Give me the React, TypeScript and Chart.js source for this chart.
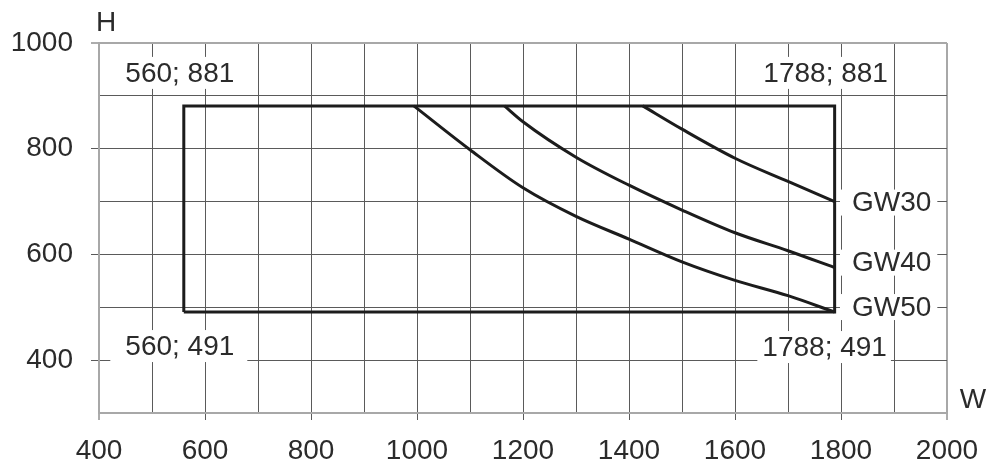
import React, { useEffect, useRef } from 'react';
import { Chart, registerables } from 'chart.js';

Chart.register(...registerables);

// ---- data ----
const boxW = [560, 560, 1788, 1788, 560];
const boxH = [491, 881, 881, 491, 491];

const gw30W = [1426, 1500, 1600, 1700, 1788];
const gw30H = [881, 837, 782, 738, 700];

const gw40W = [1165, 1200, 1300, 1400, 1500, 1600, 1700, 1788];
const gw40H = [881, 851, 784, 731, 684, 641, 607, 575];

const gw50W = [994, 1100, 1200, 1300, 1400, 1500, 1600, 1700, 1788];
const gw50H = [881, 798, 726, 672, 629, 586, 551, 522, 491];

const seriesNames = ['GW30', 'GW40', 'GW50'];

const xTickLabels = [400, 600, 800, 1000, 1200, 1400, 1600, 1800, 2000];
const yTickLabels = [400, 600, 800, 1000];

const X_MIN = 400;
const X_MAX = 2000;
const Y_MIN = 300;
const Y_MAX = 1000;
const STEP = 100;

const FONT = '"Liberation Sans", Arial, Helvetica, sans-serif';
const TEXT = '#2b2b2b';
const LINE = '#1c1c1c';
const GRID = '#5a5a5a';
const EDGE = '#a8a8a8';

const toPts = (xs: number[], ys: number[]) => xs.map((x, i) => ({ x, y: ys[i] }));

type Ann = {
  text: string;
  ax: number;
  ay: number;
  dx: number;
  dy: number;
  padL: number;
  padR: number;
  padY: number;
};

const annotations: Ann[] = [
  { text: `${boxW[1]}; ${boxH[1]}`, ax: boxW[1], ay: boxH[1], dx: -4, dy: -33, padL: 8, padR: 8, padY: 16 },
  { text: `${boxW[2]}; ${boxH[2]}`, ax: boxW[2], ay: boxH[2], dx: -9, dy: -33, padL: 6, padR: 5, padY: 16 },
  { text: `${boxW[0]}; ${boxH[0]}`, ax: boxW[0], ay: boxH[0], dx: -4, dy: 34, padL: 15, padR: 13, padY: 16 },
  { text: `${boxW[3]}; ${boxH[3]}`, ax: boxW[3], ay: boxH[3], dx: -10, dy: 35, padL: 5, padR: 4, padY: 16 },
  { text: seriesNames[0], ax: gw30W[gw30W.length - 1], ay: gw30H[gw30H.length - 1], dx: 57, dy: 1, padL: 12, padR: 6, padY: 13 },
  { text: seriesNames[1], ax: gw40W[gw40W.length - 1], ay: gw40H[gw40H.length - 1], dx: 57, dy: -5, padL: 12, padR: 6, padY: 13 },
  { text: seriesNames[2], ax: gw50W[gw50W.length - 1], ay: gw50H[gw50H.length - 1], dx: 57, dy: -5, padL: 12, padR: 6, padY: 13 },
];

const annotationPlugin = {
  id: 'cornerLabels',
  afterDraw(chart: any) {
    const { ctx, scales, chartArea } = chart;
    const xs = scales.x;
    const ys = scales.y;
    ctx.save();
    ctx.font = `28px ${FONT}`;
    ctx.textAlign = 'center';
    ctx.textBaseline = 'middle';
    for (const a of annotations) {
      const cx = xs.getPixelForValue(a.ax) + a.dx;
      const cy = ys.getPixelForValue(a.ay) + a.dy;
      const w = ctx.measureText(a.text).width;
      ctx.fillStyle = '#ffffff';
      ctx.fillRect(cx - w / 2 - a.padL, cy - a.padY, w + a.padL + a.padR, a.padY * 2);
      ctx.fillStyle = TEXT;
      ctx.fillText(a.text, cx, cy + 1);
    }
    ctx.fillText('H', chartArea.left + 7, chartArea.top - 20);
    ctx.fillText('W', chartArea.right + 26, chartArea.bottom - 13);
    ctx.restore();
  },
};

const isEdge = (v: number, lo: number, hi: number) => v === lo || v === hi;

export default function App() {
  const ref = useRef<HTMLCanvasElement>(null);

  useEffect(() => {
    if (!ref.current) return;
    const lineDs = (label: string, xs: number[], ys: number[], smooth: boolean) => ({
      label,
      data: toPts(xs, ys),
      showLine: true,
      borderColor: LINE,
      backgroundColor: LINE,
      borderWidth: 3,
      pointRadius: 0,
      pointHoverRadius: 0,
      fill: false,
      tension: 0,
      cubicInterpolationMode: smooth ? ('monotone' as const) : ('default' as const),
      borderJoinStyle: 'miter' as const,
      borderCapStyle: 'butt' as const,
    });

    const chart = new Chart(ref.current, {
      type: 'scatter',
      data: {
        datasets: [
          lineDs('box', boxW, boxH, false),
          lineDs(seriesNames[0], gw30W, gw30H, true),
          lineDs(seriesNames[1], gw40W, gw40H, true),
          lineDs(seriesNames[2], gw50W, gw50H, true),
        ],
      },
      options: {
        responsive: false,
        animation: false,
        events: [],
        layout: { padding: { top: 43, right: 53, left: 0, bottom: 0 } },
        plugins: {
          legend: { display: false },
          tooltip: { enabled: false },
        },
        scales: {
          x: {
            type: 'linear',
            min: X_MIN,
            max: X_MAX,
            afterFit: (s: any) => {
              s.height = 63;
            },
            ticks: {
              stepSize: STEP,
              autoSkip: false,
              maxRotation: 0,
              padding: 14,
              color: TEXT,
              font: { family: FONT, size: 28 },
              callback: (v: any) => (xTickLabels.includes(Number(v)) ? String(v) : ''),
            },
            grid: {
              color: (c: any) => (isEdge(c.tick?.value, X_MIN, X_MAX) ? EDGE : GRID),
              lineWidth: (c: any) => (isEdge(c.tick?.value, X_MIN, X_MAX) ? 2 : 1),
              tickLength: 7,
              tickColor: (c: any) => (xTickLabels.includes(c.tick?.value) ? GRID : 'rgba(0,0,0,0)'),
              tickWidth: 1,
            },
            border: { display: true, color: EDGE, width: 2 },
          },
          y: {
            type: 'linear',
            min: Y_MIN,
            max: Y_MAX,
            afterFit: (s: any) => {
              s.width = 99;
            },
            ticks: {
              stepSize: STEP,
              autoSkip: false,
              padding: 18,
              color: TEXT,
              font: { family: FONT, size: 28 },
              callback: (v: any) => (yTickLabels.includes(Number(v)) ? String(v) : ''),
            },
            grid: {
              color: (c: any) => (isEdge(c.tick?.value, Y_MIN, Y_MAX) ? EDGE : GRID),
              lineWidth: (c: any) => (isEdge(c.tick?.value, Y_MIN, Y_MAX) ? 2 : 1),
              tickLength: 8,
              tickColor: (c: any) => (yTickLabels.includes(c.tick?.value) ? GRID : 'rgba(0,0,0,0)'),
              tickWidth: 1,
            },
            border: { display: true, color: EDGE, width: 2 },
          },
        },
      },
      plugins: [annotationPlugin],
    });
    return () => chart.destroy();
  }, []);

  return (
    <div style={{ position: 'fixed', left: 0, top: 0, width: 1000, height: 476, background: '#fff' }}>
      <canvas ref={ref} width={1000} height={476} style={{ display: 'block', width: 1000, height: 476 }} />
    </div>
  );
}
